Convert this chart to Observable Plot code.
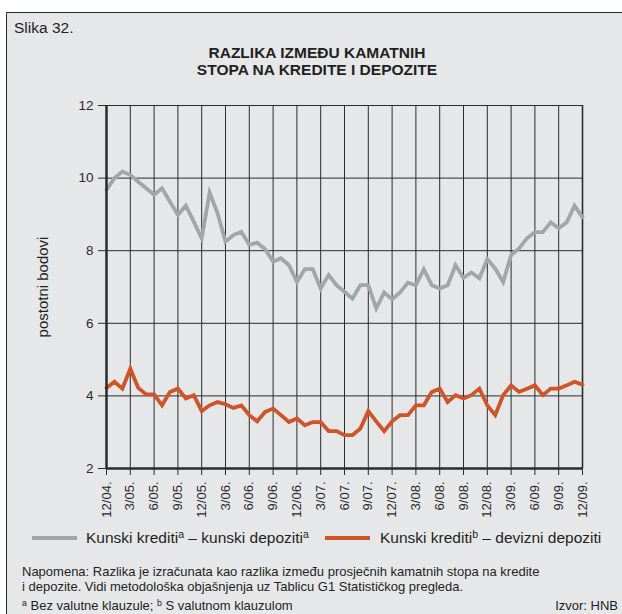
<!DOCTYPE html>
<html><head><meta charset="utf-8">
<script src="https://cdn.jsdelivr.net/npm/d3@7"></script>
<script src="https://cdn.jsdelivr.net/npm/@observablehq/plot@0.6"></script>
<style>
body{margin:0;background:#fff;font-family:"Liberation Sans",Arial,sans-serif;}
#wrap{position:relative;width:622px;height:614px;overflow:hidden;}
#panel{position:absolute;left:6px;top:12px;width:640px;height:620px;background:#e6e7e8;border-left:1.5px solid #2b2b2b;border-top:1.5px solid #2b2b2b;}
.t{position:absolute;white-space:nowrap;color:#231f20;line-height:1;}
#chart{position:absolute;left:0;top:0;}
sup{font-size:0.68em;vertical-align:0.45em;line-height:0;}
</style></head><body>
<div id="wrap">
<div id="panel"></div>
<div id="chart"></div>
<div class="t" style="left:14px;top:20px;font-size:15.5px;">Slika 32.</div>
<div class="t" style="left:0;width:634px;text-align:center;top:45px;font-size:15.5px;font-weight:bold;line-height:16.6px;">RAZLIKA IZMEĐU KAMATNIH<br>STOPA NA KREDITE I DEPOZITE</div>
<div id="legend"></div>
<div class="t" style="left:22px;top:565px;font-size:13px;line-height:14.5px;">Napomena: Razlika je izračunata kao razlika između prosječnih kamatnih stopa na kredite<br>i depozite. Vidi metodološka objašnjenja uz Tablicu G1 Statističkog pregleda.</div>
<div class="t" style="left:22px;top:599px;font-size:13px;"><sup>a</sup> Bez valutne klauzule; <sup>b</sup> S valutnom klauzulom</div>
<div class="t" style="right:4px;top:599px;font-size:13px;">Izvor: HNB</div>
</div>
<script>
const months = ["12/04","1/05","2/05","3/05","4/05","5/05","6/05","7/05","8/05","9/05","10/05","11/05","12/05",
"1/06","2/06","3/06","4/06","5/06","6/06","7/06","8/06","9/06","10/06","11/06","12/06",
"1/07","2/07","3/07","4/07","5/07","6/07","7/07","8/07","9/07","10/07","11/07","12/07",
"1/08","2/08","3/08","4/08","5/08","6/08","7/08","8/08","9/08","10/08","11/08","12/08",
"1/09","2/09","3/09","4/09","5/09","6/09","7/09","8/09","9/09","10/09","11/09","12/09"];
const tickLabels = ["12/04","3/05","6/05","9/05","12/05","3/06","6/06","9/06","12/06","3/07","6/07","9/07","12/07","3/08","6/08","9/08","12/08","3/09","6/09","9/09","12/09"];
const yTicks = [2,4,6,8,10,12];
const kunskiKunski = [9.68,10.0,10.18,10.09,9.9,9.72,9.54,9.72,9.35,8.99,9.24,8.8,8.34,
9.6,9.03,8.25,8.43,8.52,8.16,8.22,8.04,7.70,7.79,7.6,7.14,
7.49,7.49,6.96,7.33,7.05,6.87,6.68,7.05,7.05,6.41,6.85,6.66,
6.85,7.12,7.05,7.49,7.05,6.96,7.05,7.6,7.25,7.4,7.24,7.77,
7.51,7.14,7.88,8.06,8.34,8.51,8.51,8.78,8.62,8.78,9.24,8.92];
const kunskiDevizni = [4.22,4.39,4.2,4.75,4.22,4.04,4.04,3.74,4.11,4.2,3.93,4.02,3.58,
3.74,3.83,3.77,3.67,3.74,3.47,3.3,3.56,3.65,3.47,3.28,3.38,
3.19,3.28,3.28,3.03,3.03,2.92,2.92,3.1,3.58,3.3,3.03,3.3,
3.47,3.47,3.74,3.74,4.11,4.2,3.83,4.02,3.93,4.02,4.2,3.74,
3.47,4.02,4.29,4.11,4.2,4.29,4.02,4.2,4.2,4.29,4.39,4.31];
const grayColor = "#a1a6a9";
const orangeColor = "#cf5427";
const ink = "#231f20";
const gridColor = "#2b2b2b";

const table = months.map((m, i) => ({m, g: kunskiKunski[i], o: kunskiDevizni[i]}));

const plot = Plot.plot({
  width: 622, height: 520,
  marginLeft: 106, marginRight: 40, marginTop: 105, marginBottom: 52,
  style: {background: "transparent", fontFamily: "Liberation Sans, Arial, sans-serif", color: gridColor},
  x: {type: "point", domain: months, padding: 0},
  y: {domain: [2, 12]},
  marks: [
    Plot.ruleX(tickLabels, {x: d => d, stroke: gridColor, strokeWidth: 1}),
    Plot.ruleY(yTicks, {y: d => d, stroke: gridColor, strokeWidth: 1}),
    Plot.ruleX([months[months.length - 1]], {stroke: gridColor, strokeWidth: 1.6}),
    Plot.axisY({ticks: yTicks, tickSize: 8, tickPadding: 5, fontSize: 13.5, label: null}),
    Plot.axisX({ticks: tickLabels, tickSize: 7, tickPadding: 6, fontSize: 13, tickRotate: -90, label: null, tickFormat: d => d + "."}),
    Plot.text(["postotni bodovi"], {frameAnchor: "left", textAnchor: "middle", dx: -63, rotate: -90, fontSize: 15, fill: ink}),
    Plot.line(table, {x: "m", y: "g", stroke: grayColor, strokeWidth: 3.8, strokeLinejoin: "miter", strokeMiterlimit: 4}),
    Plot.line(table, {x: "m", y: "o", stroke: orangeColor, strokeWidth: 3.8, strokeLinejoin: "miter", strokeMiterlimit: 4}),
    Plot.ruleX([months[0]], {stroke: gridColor, strokeWidth: 2.5}),
    Plot.ruleY([2], {stroke: gridColor, strokeWidth: 2.5})
  ]
});
document.getElementById("chart").appendChild(plot);

const legend = document.getElementById("legend");
const items = [
  {x: 32, tx: 86, color: grayColor, html: "Kunski krediti<sup>a</sup> – kunski depoziti<sup>a</sup>"},
  {x: 325, tx: 380, color: orangeColor, html: "Kunski krediti<sup>b</sup> – devizni depoziti"}
];
items.forEach(it => {
  const sw = document.createElement("div");
  sw.style.cssText = `position:absolute;left:${it.x}px;top:535.5px;width:45px;height:4px;background:${it.color};`;
  legend.appendChild(sw);
  const tx = document.createElement("div");
  tx.className = "t";
  tx.style.cssText = `left:${it.tx}px;top:530px;font-size:15.5px;`;
  tx.innerHTML = it.html;
  legend.appendChild(tx);
});
</script>
</body></html>
